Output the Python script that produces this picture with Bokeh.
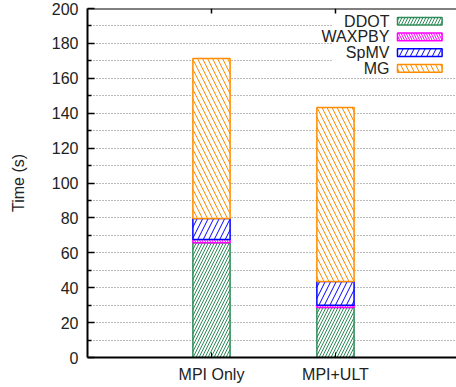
from bokeh.plotting import figure
from bokeh.models import Range1d, FixedTicker, ColumnDataSource, BoxAnnotation, Span
from bokeh.core.properties import value
from bokeh.embed import file_html
from bokeh.resources import INLINE

# ---- data ----
categories = ["MPI Only", "MPI+ULT"]
series_names = ["DDOT", "WAXPBY", "SpMV", "MG"]
ddot = [65.7, 28.7]
waxpby = [1.9, 1.3]
spmv = [12.1, 13.6]
mg = [91.6, 99.7]
y_ticks = [0, 20, 40, 60, 80, 100, 120, 140, 160, 180, 200]
y_minor = [10, 30, 50, 70, 90, 110, 130, 150, 170, 190]

# ---- styles ----
FONT = "Liberation Sans"
colors = ["#2e8b57", "#ff00ff", "#0000ff", "#ff8c00"]
hatches = ["/", "\\", "/", "\\"]
hatch_scales = [6, 5, 11, 10]

series_values = [ddot, waxpby, spmv, mg]
xs = [i + 1 for i in range(len(categories))]
y_max = y_ticks[-1]

p = figure(width=456, height=387, output_backend="svg", toolbar_location=None,
           x_range=Range1d(0, 2.976), y_range=Range1d(0, y_max),
           min_border_left=87, min_border_right=0, min_border_top=8,
           min_border_bottom=30, background_fill_color="white")
p.outline_line_color = None

# grid
p.xgrid.visible = False
p.ygrid.ticker = FixedTicker(ticks=sorted(y_ticks + y_minor))
p.ygrid.grid_line_color = "#777777"
p.ygrid.grid_line_dash = "1 2"
p.ygrid.grid_line_width = 1

# legend background (above grid, below everything else)
p.add_layout(BoxAnnotation(left=1.976, right=2.976, bottom=162, top=199,
                           fill_color="white", fill_alpha=1.0, line_color=None,
                           level="underlay"))

# stacked bars
bottoms = [0.0] * len(categories)
for name, vals, col, hp, hs in zip(series_names, series_values, colors, hatches, hatch_scales):
    tops = [b + v for b, v in zip(bottoms, vals)]
    src = ColumnDataSource(dict(x=xs, bottom=bottoms, top=tops))
    p.vbar(x="x", width=0.3, bottom="bottom", top="top", source=src,
           fill_color="white", line_color=col, line_width=1.5,
           hatch_pattern=hp, hatch_color=col, hatch_scale=hs, hatch_weight=1)
    bottoms = tops

# y axis
ya = p.yaxis[0]
ya.ticker = FixedTicker(ticks=y_ticks, minor_ticks=y_minor)
ya.axis_label = "Time (s)"
ya.axis_label_text_font = FONT
ya.axis_label_text_font_style = "normal"
ya.axis_label_text_font_size = "16px"
ya.axis_label_text_color = "#222222"
ya.axis_label_standoff = 22
ya.major_label_text_font = FONT
ya.major_label_text_font_size = "16px"
ya.major_label_text_color = "#222222"
ya.major_label_standoff = 9
ya.major_tick_in = 7
ya.major_tick_out = 0
ya.minor_tick_in = 4
ya.minor_tick_out = 0
ya.axis_line_width = 2
ya.major_tick_line_width = 1.5
ya.minor_tick_line_width = 1.5

# x axis
xa = p.xaxis[0]
xa.ticker = FixedTicker(ticks=xs)
xa.major_label_overrides = {x: c for x, c in zip(xs, categories)}
xa.major_label_text_font = FONT
xa.major_label_text_font_size = "16px"
xa.major_label_text_color = "#222222"
xa.major_label_standoff = 8
xa.major_tick_in = 5
xa.major_tick_out = 0
xa.minor_tick_line_color = None
xa.axis_line_width = 2

# top frame line with category ticks
p.add_layout(Span(location=y_max, dimension="width", line_color="black", line_width=2))
p.segment(x0=xs, y0=[y_max] * len(xs), x1=xs, y1=[y_max - 2.8] * len(xs),
          line_color="black", line_width=1.5)

# legend (manual, label left of swatch)
leg_y = [192.7 - 9.0 * i for i in range(len(series_names))]
leg_src = ColumnDataSource(dict(y=leg_y, name=series_names, color=colors,
                                hatch=hatches, scale=hatch_scales))
p.text(x=2.435, y="y", text="name", source=leg_src, text_align="right",
       text_baseline="middle", text_font=value(FONT), text_font_size="16px",
       text_color="#222222")
p.rect(x=2.68, y="y", width=0.36, height=4.4, source=leg_src,
       fill_color="white", line_color="color", line_width=1.5,
       hatch_pattern="hatch", hatch_color="color", hatch_scale="scale", hatch_weight=1)

open("out.html", "w").write(file_html(p, INLINE))
